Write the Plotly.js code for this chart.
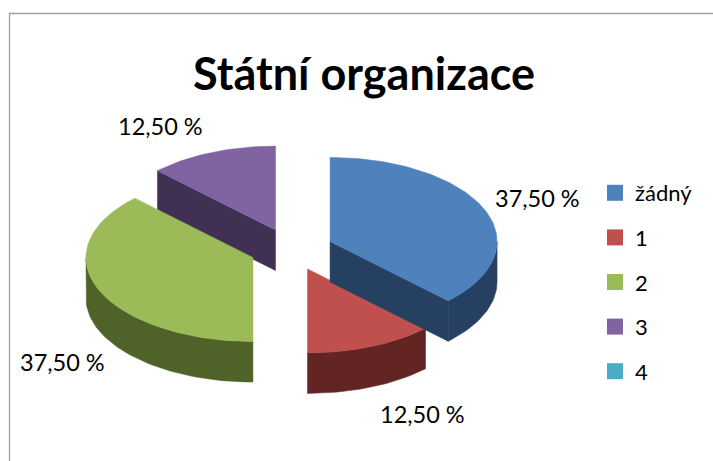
<!DOCTYPE html>
<html><head><meta charset="utf-8">
<script src="https://cdn.plot.ly/plotly-3.0.1.min.js"></script>
<style>html,body{margin:0;padding:0;background:#fff}</style></head>
<body><div id="chart" style="width:713px;height:461px"></div>
<script>
const categories = ["žádný", "1", "2", "3", "4"];
const values = [3, 1, 3, 1, 0];
const topColors = ["#4F81BD", "#C0504D", "#9BBB59", "#8064A2", "#4BACC6"];
const sideColors = ["#254061", "#632523", "#4F6228", "#403152", "#2A6273"];
const chartTitle = "Státní organizace";

// pie geometry on the pixel-scaled axes
const cx = 291.5, cy = 249.5, rx = 167, ry = 84, depth = 40.5, pull = 0.25;
const labelAnchors = [[537, 198], [422, 414], [62, 362], [160, 126]];
const FONT = "Lato, Carlito, Calibri, sans-serif";

const total = values.reduce((a, b) => a + b, 0);
const rad = d => d * Math.PI / 180;
let acc = 0;
const slices = values.map((v, i) => {
  const a0 = acc / total * 360; acc += v; const a1 = acc / total * 360;
  const mid = rad((a0 + a1) / 2);
  return {i, v, a0, a1, ox: cx + rx * pull * Math.sin(mid), oy: cy - ry * pull * Math.cos(mid)};
});
function arc(s, from, to, dy) {
  const xs = [], ys = [];
  const n = Math.max(2, Math.ceil((to - from) / 1.5));
  for (let k = 0; k <= n; k++) {
    const t = rad(from + (to - from) * k / n);
    xs.push(s.ox + rx * Math.sin(t));
    ys.push(s.oy - ry * Math.cos(t) + dy);
  }
  return [xs, ys];
}
function poly(xs, ys, color) {
  return {type: "scatter", mode: "lines", x: xs.concat(xs[0]), y: ys.concat(ys[0]), fill: "toself",
    fillcolor: color, line: {color: color, width: 0.5}, showlegend: false, hoverinfo: "skip"};
}
const traces = [];
[3, 2, 1, 0].forEach(idx => {
  const s = slices[idx];
  if (!s.v) return;
  const side = sideColors[idx];
  // radial cut faces that look toward the viewer
  [[s.a1, Math.sin(rad(s.a1)) > 1e-6], [s.a0, Math.sin(rad(s.a0)) < -1e-6]].forEach(([a, vis]) => {
    if (!vis) return;
    const ex = s.ox + rx * Math.sin(rad(a)), ey = s.oy - ry * Math.cos(rad(a));
    traces.push(poly([s.ox, ex, ex, s.ox], [s.oy, ey, ey + depth, s.oy + depth], side));
  });
  // outer rim
  const from = Math.max(s.a0, 90), to = Math.min(s.a1, 270);
  if (to > from) {
    const [tx, ty] = arc(s, from, to, 0), [bx, by] = arc(s, from, to, depth);
    traces.push(poly(tx.concat(bx.reverse()), ty.concat(by.reverse()), side));
  }
  // top face
  const [ax, ay] = arc(s, s.a0, s.a1, 0);
  traces.push(poly([s.ox].concat(ax), [s.oy].concat(ay), topColors[idx]));
});
// legend entries
categories.forEach((c, i) => traces.push({
  type: "scatter", mode: "markers", x: [null], y: [null], name: c, legendgroup: "g" + i,
  marker: {symbol: "square", size: 16, color: topColors[i]}, hoverinfo: "skip"
}));
const annotations = [];
slices.forEach((s, i) => {
  if (!s.v) return;
  annotations.push({x: labelAnchors[i][0], y: labelAnchors[i][1], xref: "x", yref: "y", showarrow: false,
    text: (s.v / total * 100).toFixed(2).replace(".", ",") + " %",
    font: {family: FONT, size: 23.5, color: "#000"}});
});
const layout = {
  width: 713, height: 461, margin: {l: 0, r: 0, t: 0, b: 0}, paper_bgcolor: "#fff", plot_bgcolor: "#fff",
  title: {text: "<b>" + chartTitle + "</b>", x: 364 / 713, xanchor: "center", y: 1 - 74 / 461, yanchor: "middle",
    font: {family: FONT, size: 45, color: "#000"}},
  xaxis: {range: [0, 713], visible: false, fixedrange: true},
  yaxis: {range: [461, 0], visible: false, fixedrange: true},
  legend: {x: 595 / 713, xanchor: "left", y: 1 - 172 / 461, yanchor: "top", tracegroupgap: 13,
    font: {family: FONT, size: 22, color: "#000"}, bgcolor: "rgba(0,0,0,0)", itemwidth: 30},
  shapes: [{type: "path", xref: "x", yref: "y", path: "M 9.5 461 L 9.5 13.5 L 713 13.5",
    line: {color: "#A0A0A0", width: 1.3}}],
  annotations
};
Plotly.newPlot("chart", traces, layout, {displayModeBar: false, staticPlot: true});
</script></body></html>
